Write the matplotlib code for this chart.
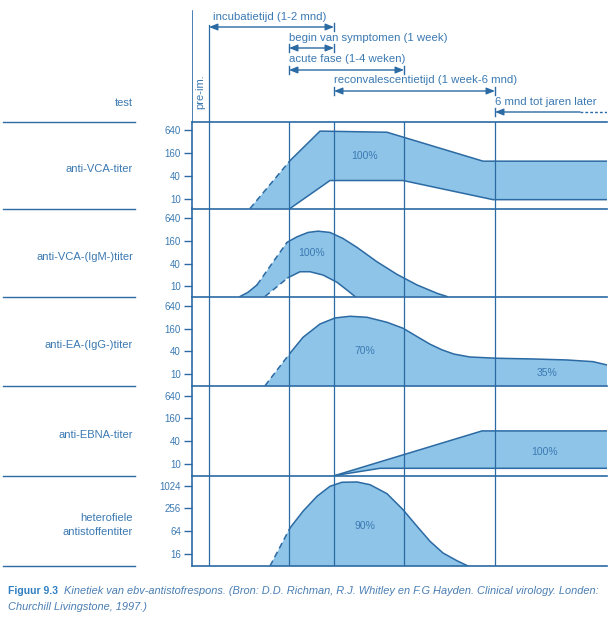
import matplotlib.pyplot as plt
import numpy as np
from matplotlib.ticker import NullLocator

plt.rcParams["font.family"] = ["Liberation Sans", "DejaVu Sans"]

LINE = "#2b6aa3"
FILL = "#8ec4e8"
TEXT = "#3b79b2"

# time in arbitrary units, 0 = left frame, 415 = right edge
T_MAX = 415
phase_marks = [17, 97, 142, 212, 303]

phase_labels = [
    "incubatietijd (1-2 mnd)",
    "begin van symptomen (1 week)",
    "acute fase (1-4 weken)",
    "reconvalescentietijd (1 week-6 mnd)",
    "6 mnd tot jaren later",
]
phase_start = [17, 97, 97, 142, 303]
phase_end = [142, 142, 212, 303, 415]

tests = [
    "anti-VCA-titer",
    "anti-VCA-(IgM-)titer",
    "anti-EA-(IgG-)titer",
    "anti-EBNA-titer",
    "heterofiele\nantistoffentiter",
]
titer_ticks = [10, 40, 160, 640]
hetero_ticks = [16, 64, 256, 1024]

# anti-VCA
vca_t_hi = [58, 98, 128, 195, 291, 415]
vca_hi = [5, 100, 600, 560, 97, 97]
vca_t_lo = [98, 138, 211, 301, 415]
vca_lo = [5, 30, 30, 9.4, 9.4]

# anti-VCA IgM
igm_t_hi = [48, 56, 65, 80, 95, 105, 116, 126, 138, 151, 165, 185, 205, 225, 245, 255]
igm_hi = [5, 6.8, 10.7, 40, 147, 207, 271, 293, 271, 187, 108, 44.5, 20.5, 10.7, 6.4, 5]
igm_t_lo = [73, 85, 96, 108, 118, 131, 145, 155, 163]
igm_lo = [5, 9.6, 16.7, 24.1, 24.1, 19.7, 12.6, 7.8, 5]

# anti-EA IgG
ea_t = [73, 98, 111, 128, 143, 158, 175, 195, 211, 226, 238, 250, 262, 278, 305, 341, 375, 401, 415]
ea = [5, 35.8, 94, 211, 304, 337, 317, 234, 163, 95, 62, 44, 34, 28.5, 26.4, 25.3, 23.8, 21.5, 17.6]

# anti-EBNA
ebna_t_hi = [143, 290, 415]
ebna_hi = [4, 75, 75]
ebna_t_lo = [143, 188, 415]
ebna_lo = [4, 7.7, 7.7]

# heterophile antibodies
het_t = [78, 98, 111, 125, 138, 150, 165, 178, 195, 211, 225, 238, 251, 265, 276]
het = [7, 78, 216, 537, 987, 1260, 1283, 1089, 629, 238, 86.5, 34.7, 17.0, 10.6, 7]

panels = [
    dict(hi=(vca_t_hi, vca_hi), lo=(vca_t_lo, vca_lo), dash_hi=(0, 1), dash_lo=None,
         ticks=titer_ticks, ylim=(5.5, 1042), pct=[("100%", 173, 131)]),
    dict(hi=(igm_t_hi, igm_hi), lo=(igm_t_lo, igm_lo), dash_hi=(2, 4), dash_lo=(0, 2),
         ticks=titer_ticks, ylim=(5.25, 1183), pct=[("100%", 120, 77)]),
    dict(hi=(ea_t, ea), lo=None, dash_hi=(0, 1), dash_lo=None,
         ticks=titer_ticks, ylim=(5.0, 1117), pct=[("70%", 173, 42), ("35%", 355, 10.6)]),
    dict(hi=(ebna_t_hi, ebna_hi), lo=(ebna_t_lo, ebna_lo), dash_hi=None, dash_lo=None,
         ticks=titer_ticks, ylim=(4.97, 1176), pct=[("100%", 353, 21)]),
    dict(hi=(het_t, het), lo=None, dash_hi=(0, 1), dash_lo=None,
         ticks=hetero_ticks, ylim=(7.7, 1904), pct=[("90%", 173, 90)]),
]

W, H = 610, 626
panel_edges = [122, 208.5, 296.5, 385.7, 475.5, 566]
x_left, x_right = 192, 607

fig = plt.figure(figsize=(W / 100, H / 100), dpi=100)

# overlay in pixel coordinates for labels, separators and caption
ov = fig.add_axes([0, 0, 1, 1])
ov.set_xlim(0, W)
ov.set_ylim(H, 0)
ov.axis("off")

for y in panel_edges:
    ov.plot([3, 135], [y, y], color=LINE, lw=1.0)
ov.text(133, 103, "test", ha="right", va="center", color=TEXT, fontsize=8)
for i, name in enumerate(tests):
    yc = (panel_edges[i] + panel_edges[i + 1]) / 2 + 4
    ov.text(133, yc, name, ha="right", va="center", color=TEXT, fontsize=8,
            linespacing=1.5)

cap = ov.text(8, 594, "Figuur 9.3", fontsize=7.5, fontweight="bold", color="#2f7fc1",
              va="baseline")
ov.annotate("Kinetiek van ebv-antistofrespons. (Bron: D.D. Richman, R.J. Whitley en F.G Hayden. "
            "Clinical virology. Londen:",
            xy=(1, 0), xycoords=cap, xytext=(4, 0), textcoords="offset points",
            fontsize=7.9, style="italic", color="#4a7eb3", va="bottom")
ov.text(8, 610, "Churchill Livingstone, 1997.)", fontsize=7.9, style="italic",
        color="#4a7eb3", va="baseline")

# top area with phase arrows
top = fig.add_axes([x_left / W, 1 - panel_edges[0] / H, (x_right - x_left) / W, panel_edges[0] / H])
top.set_xlim(0, T_MAX)
top.set_ylim(panel_edges[0], 0)
top.axis("off")
top.plot([0, 0], [11, panel_edges[0]], color=LINE, lw=1.2)
top.plot([phase_marks[0]] * 2, [25, panel_edges[0]], color=LINE, lw=0.9)
top.text(8, 92, "pre-im.", rotation=90, ha="center", va="center", color=TEXT, fontsize=8)

text_rows = [17, 38, 59, 80, 102]
arrow_rows = [27, 48, 70, 91, 112]
for i, lab in enumerate(phase_labels):
    s, e = phase_start[i], phase_end[i]
    ya = arrow_rows[i]
    tx = s + 4 if i == 0 else s
    top.text(tx, text_rows[i], lab, ha="left", va="center", color=TEXT, fontsize=8.2)
    if e < T_MAX:
        top.annotate("", xy=(e, ya), xytext=(s, ya),
                     arrowprops=dict(arrowstyle="<|-|>,head_length=0.5,head_width=0.2",
                                     color=LINE, lw=1, shrinkA=0, shrinkB=0))
        top.plot([e, e], [ya - 4, ya + 4], color=LINE, lw=1)
        if i > 0:
            top.plot([s, s], [ya - 4, ya + 4], color=LINE, lw=1)
    else:
        top.annotate("", xy=(s, ya), xytext=(s + 85, ya),
                     arrowprops=dict(arrowstyle="-|>,head_length=0.5,head_width=0.2",
                                     color=LINE, lw=1, shrinkA=0, shrinkB=0))
        top.plot([s + 85, e], [ya, ya], color=LINE, lw=1, ls=(0, (2, 1.5)))
        top.plot([s, s], [ya - 4, ya + 4], color=LINE, lw=1)

# titer panels
for i, p in enumerate(panels):
    y0, y1 = panel_edges[i], panel_edges[i + 1]
    ax = fig.add_axes([x_left / W, 1 - y1 / H, (x_right - x_left) / W, (y1 - y0) / H])
    ax.patch.set_alpha(0)
    ax.set_yscale("log")
    lo_lim, hi_lim = p["ylim"]
    ax.set_xlim(0, T_MAX)
    ax.set_ylim(lo_lim, hi_lim)

    th, vh = np.array(p["hi"][0], float), np.clip(np.array(p["hi"][1], float), lo_lim, None)
    if p["lo"] is not None:
        tl, vl = np.array(p["lo"][0], float), np.clip(np.array(p["lo"][1], float), lo_lim, None)
        px = np.concatenate([th, tl[::-1]])
        py = np.concatenate([vh, vl[::-1]])
    else:
        px = np.concatenate([th, [th[-1], th[0]]])
        py = np.concatenate([vh, [lo_lim, lo_lim]])
    ax.fill(px, py, color=FILL, lw=0, zorder=1)

    curves = [(th, vh, p["dash_hi"])]
    if p["lo"] is not None:
        curves.append((tl, vl, p["dash_lo"]))
    for tt, vv, dash in curves:
        if dash is None:
            ax.plot(tt, vv, color=LINE, lw=1.1, zorder=3)
        else:
            a, b = dash
            ax.plot(tt[a:b + 1], vv[a:b + 1], color=LINE, lw=1.1, ls=(0, (4, 2.5)), zorder=3)
            if a > 0:
                ax.plot(tt[:a + 1], vv[:a + 1], color=LINE, lw=1.1, zorder=3)
            ax.plot(tt[b:], vv[b:], color=LINE, lw=1.1, zorder=3)

    for tm in phase_marks:
        ax.axvline(tm, color=LINE, lw=0.9, zorder=2)

    for lab, tx, ty in p["pct"]:
        ax.text(tx, ty, lab, ha="center", va="center", color=TEXT, fontsize=7.5, zorder=4)

    ax.set_yticks(p["ticks"])
    ax.set_yticklabels([str(v) for v in p["ticks"]])
    ax.yaxis.set_minor_locator(NullLocator())
    ax.set_xticks([])
    ax.tick_params(axis="y", direction="out", length=6, width=1, color=LINE,
                   labelcolor=TEXT, labelsize=7, pad=2)
    for side in ["right", "bottom"]:
        ax.spines[side].set_visible(False)
    ax.spines["top"].set_color(LINE)
    ax.spines["left"].set_color(LINE)
    ax.spines["top"].set_linewidth(1.2)
    ax.spines["left"].set_linewidth(1.2)
    if i == len(panels) - 1:
        ax.spines["bottom"].set_visible(True)
        ax.spines["bottom"].set_color(LINE)
        ax.spines["bottom"].set_linewidth(1.2)

fig.savefig("out.png", dpi=100)
